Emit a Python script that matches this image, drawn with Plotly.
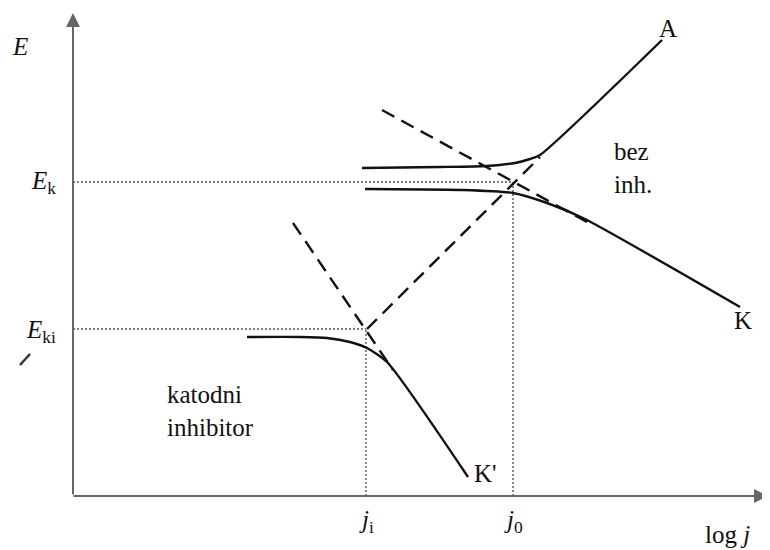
"""
Polarizacijski dijagram: vpliv katodnega inhibitorja na korozijski potencial.
"""

import plotly.graph_objects as go

# koordinate: x = log j (poljubne enote), y = E (poljubne enote), izhodisce v presecisciu osi
# stran ima 8 px roba, zato je slika 762 x 542
X_RANGE = [-65, 697]
Y_RANGE = [-54, 488]

# anodna krivulja A
anode_x = [289, 367, 414, 442, 457, 467, 589]
anode_y = [328, 329, 330, 333, 337, 341, 456]

# katodna krivulja K (brez inhibitorja)
cathode_x = [292, 390, 440, 474, 510, 667]
cathode_y = [307, 306, 303, 293, 278, 189]

# katodna krivulja K' (s katodnim inhibitorjem)
cathode_inh_x = [174, 227, 254, 277, 294, 314, 395]
cathode_inh_y = [159, 159, 158, 154, 148, 134, 19]

# Tafelove premice (crtkano)
tafel_cath_x = [309, 514]
tafel_cath_y = [386, 274]
tafel_anode_x = [294, 467]
tafel_anode_y = [167, 339]
tafel_cath_inh_x = [220, 320]
tafel_cath_inh_y = [273, 126]

# karakteristicne vrednosti
E_k = 314
E_ki = 167
j_0 = 440
j_i = 293

LINE = "#111111"
GUIDE = "#555555"
AXIS = "#666666"
FONT = "Liberation Serif, Times New Roman, serif"

fig = go.Figure()

# pomozne pikcaste crte
for xs, ys in [
    ([0, j_0], [E_k, E_k]),
    ([j_0, j_0], [0, E_k]),
    ([0, j_i], [E_ki, E_ki]),
    ([j_i, j_i], [0, E_ki]),
]:
    fig.add_trace(
        go.Scatter(
            x=xs, y=ys, mode="lines",
            line={"color": GUIDE, "width": 1.4, "dash": "2px,2px"},
        )
    )

for xs, ys in [
    (tafel_cath_x, tafel_cath_y),
    (tafel_anode_x, tafel_anode_y),
    (tafel_cath_inh_x, tafel_cath_inh_y),
]:
    fig.add_trace(
        go.Scatter(
            x=xs, y=ys, mode="lines",
            line={"color": LINE, "width": 2.4, "dash": "14px,8px"},
        )
    )

for xs, ys in [
    (anode_x, anode_y),
    (cathode_x, cathode_y),
    (cathode_inh_x, cathode_inh_y),
]:
    fig.add_trace(
        go.Scatter(
            x=xs, y=ys, mode="lines",
            line={"color": LINE, "width": 2.4, "shape": "spline", "smoothing": 0.6},
        )
    )

# majhna crtica levo od E_ki (kot na izvirniku)
fig.add_trace(
    go.Scatter(
        x=[-53, -43], y=[131, 142], mode="lines",
        line={"color": "#333333", "width": 2.5},
    )
)

# osi s puscicama
fig.add_annotation(
    x=0, y=483, ax=0, ay=0, xref="x", yref="y", axref="x", ayref="y",
    text="", showarrow=True, arrowhead=2, arrowsize=1.4, arrowwidth=2,
    arrowcolor=AXIS,
)
fig.add_annotation(
    x=695, y=0, ax=-1, ay=0, xref="x", yref="y", axref="x", ayref="y",
    text="", showarrow=True, arrowhead=2, arrowsize=1.4, arrowwidth=2,
    arrowcolor=AXIS,
)

labels = [
    (-53, 450, "<i>E</i>", "center"),
    (-15, 314, "<i>E</i><sub>k</sub>", "right"),
    (-15, 165, "<i>E</i><sub>ki</sub>", "right"),
    (j_i, -25, "<i>j</i><sub>i</sub>", "center"),
    (j_0, -25, "<i>j</i><sub>0</sub>", "center"),
    (654, -38, "log <i>j</i>", "center"),
    (595, 468, "A", "center"),
    (670, 176, "K", "center"),
    (412, 23, "K'", "center"),
]
for x, y, text, anchor in labels:
    fig.add_annotation(
        x=x, y=y, text=text, showarrow=False, xanchor=anchor,
        font={"family": FONT, "size": 25, "color": "#111111"},
    )

fig.add_annotation(
    x=539, y=328, text="bez<br>inh.", showarrow=False,
    xanchor="left", align="left",
    font={"family": FONT, "size": 25, "color": "#111111"},
)
fig.add_annotation(
    x=92, y=85, text="katodni<br>inhibitor", showarrow=False,
    xanchor="left", align="left",
    font={"family": FONT, "size": 25, "color": "#111111"},
)

fig.update_layout(
    width=762,
    height=542,
    margin={"l": 0, "r": 0, "t": 0, "b": 0},
    paper_bgcolor="white",
    plot_bgcolor="white",
    showlegend=False,
)
fig.update_xaxes(range=X_RANGE, visible=False, fixedrange=True)
fig.update_yaxes(range=Y_RANGE, visible=False, fixedrange=True)

fig.write_html("out.html")
